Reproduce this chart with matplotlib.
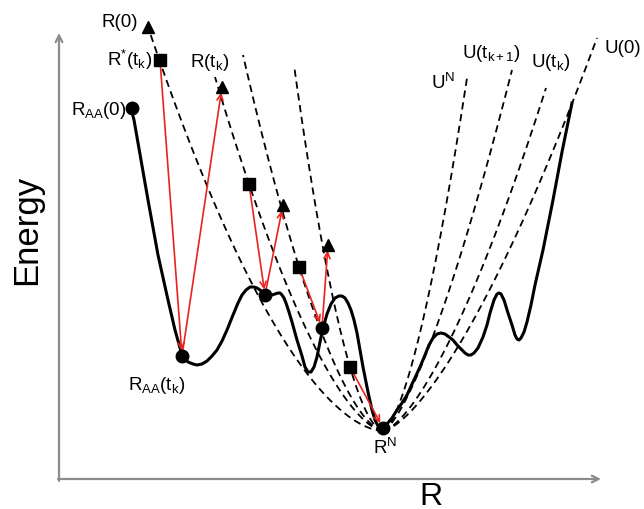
import numpy as np
import matplotlib
matplotlib.use('Agg')
import matplotlib.pyplot as plt

plt.rcParams['font.family'] = ['Liberation Sans', 'DejaVu Sans']
plt.rcParams['mathtext.fontset'] = 'custom'
plt.rcParams['mathtext.rm'] = 'Liberation Sans'
plt.rcParams['mathtext.it'] = 'Liberation Sans:italic'
plt.rcParams['mathtext.default'] = 'rm'

# ---- potential energy surface (solid curve) ----
R_curve = [72, 75, 82, 89, 99, 109, 116, 123, 129, 134, 138, 143, 148, 153, 158, 163,
           168, 174, 179, 183, 187, 191, 195, 198, 201, 204, 207, 210, 213, 216, 219,
           221, 223, 225, 227, 230, 233, 238, 243, 246, 249, 252, 255, 258, 261, 264,
           268, 272, 276, 280, 283, 286, 289, 292, 295, 298, 304, 309, 313, 316, 319,
           322, 324, 328, 333, 338, 343, 348, 354, 361, 366, 370, 374, 378, 382, 386,
           390, 394, 398, 402, 406, 409, 412, 415, 419, 424, 428, 431, 435, 438, 440,
           442, 445, 449, 453, 456, 458, 460, 462, 465, 468, 472, 476, 484, 494, 503, 513]
E_curve = [372, 360, 320, 280, 225, 180, 150, 125, 118, 116, 115, 116, 119, 124, 130, 139,
           150, 165, 177, 185, 190, 193, 193, 192, 190, 188, 186, 185, 185, 186, 187,
           187, 185, 182, 177, 168, 158, 140, 124, 113, 108, 108, 113, 123, 138, 152,
           166, 176, 182, 184, 184, 182, 177, 170, 160, 147, 113, 88, 70, 60, 54,
           52, 52, 56, 62, 70, 77, 85, 98, 113, 125, 135, 142, 146, 147, 146,
           143, 140, 135, 131, 127, 125, 125, 127, 132, 143, 155, 167, 180, 186, 187,
           186, 180, 167, 155, 145, 141, 140, 142, 148, 158, 175, 195, 230, 280, 328, 377]

# ---- harmonic approximations (dashed), vertex at R^N ----
R_N, E_N = 324, 49
harm_labels = ['U(0)', 'U(tk)', 'U(tk+1)', 'U^N']
left_top_R = [89, 156, 184, 235]
left_top_E = [453, 403, 425, 415]
left_mid_R = [154, 190, 240, 291]
left_mid_E = [280, 296, 213, 113]
right_top_R = [538, 487, 453, 408]
right_top_E = [442, 392, 410, 402]
right_mid_R = [473, 449, 418, 388]
right_mid_E = [280, 280, 280, 280]

# ---- markers ----
circle_R = [73, 123, 206, 263, 324]
circle_E = [372, 124, 185, 152, 52]
square_R = [101, 190, 240, 291]
square_E = [420, 296, 213, 113]
triangle_R = [89, 163, 224, 269]
triangle_E = [453, 393, 275, 235]

fig = plt.figure(figsize=(6.44, 5.09), dpi=100)
ax = fig.add_axes([0, 0, 1, 1])
ax.set_xlim(-59, 585)
ax.set_ylim(-29, 480)
ax.axis('off')

# axes arrows
axc = '#8c8c8c'
ax.annotate('', xy=(0, 447), xytext=(0, -1),
            arrowprops=dict(arrowstyle='->', color=axc, lw=1.6, shrinkA=0, shrinkB=0,
                            mutation_scale=12))
ax.annotate('', xy=(542, 1), xytext=(-1, 1),
            arrowprops=dict(arrowstyle='->', color=axc, lw=1.6, shrinkA=0, shrinkB=0,
                            mutation_scale=12))


def branch(top_R, top_E, mid_R, mid_E):
    dt, dm = abs(top_R - R_N), abs(mid_R - R_N)
    rt, rm = top_E - E_N, mid_E - E_N
    p = np.log(rt / rm) / np.log(dt / dm)
    a = rt / dt ** p
    R = np.linspace(R_N, top_R, 200)
    return R, E_N + a * np.abs(R - R_N) ** p


for i in range(4):
    for tR, tE, mR, mE in [(left_top_R[i], left_top_E[i], left_mid_R[i], left_mid_E[i]),
                           (right_top_R[i], right_top_E[i], right_mid_R[i], right_mid_E[i])]:
        R, E = branch(tR, tE, mR, mE)
        ax.plot(R, E, color='black', lw=1.3, linestyle=(0, (4, 2.6)), zorder=2)

ax.plot(R_curve, E_curve, color='black', lw=2.2, solid_joinstyle='round', zorder=3)

# red arrows
red = '#e8231f'
def arrow(p0, p1):
    ax.annotate('', xy=p1, xytext=p0,
                arrowprops=dict(arrowstyle='->', color=red, lw=1.2, shrinkA=3, shrinkB=4,
                                mutation_scale=11), zorder=4)

for i in range(3):
    arrow((square_R[i], square_E[i]), (circle_R[i + 1], circle_E[i + 1]))
    arrow((circle_R[i + 1], circle_E[i + 1]), (triangle_R[i + 1], triangle_E[i + 1]))
arrow((square_R[3], square_E[3]), (circle_R[4], circle_E[4]))

ax.plot(circle_R, circle_E, 'o', color='black', ms=9, zorder=5)
ax.plot(square_R, square_E, 's', color='black', ms=9, zorder=5)
ax.plot(triangle_R, triangle_E, '^', color='black', ms=9, zorder=5)

fs = 13.5
ax.text(79, 458, 'R(0)', fontsize=fs, ha='right', va='center')
ax.text(93, 420, r'R$^{*}$(t$_{k}$)', fontsize=fs, ha='right', va='center')
ax.text(151, 418, r'R(t$_{k}$)', fontsize=fs, ha='center', va='center')
ax.text(68, 370, r'R$_{AA}$(0)', fontsize=fs, ha='right', va='center')
ax.text(98, 95, r'R$_{AA}$(t$_{k}$)', fontsize=fs, ha='center', va='center')
ax.text(326, 32, r'R$^{N}$', fontsize=fs, ha='center', va='center')
ax.text(384, 397, r'U$^{N}$', fontsize=fs, ha='center', va='center')
ax.text(432, 427, r'U(t$_{k+1}$)', fontsize=fs, ha='center', va='center')
ax.text(492, 418, r'U(t$_{k}$)', fontsize=fs, ha='center', va='center')
ax.text(564, 432, 'U(0)', fontsize=fs, ha='center', va='center')

ax.text(-32, 250, 'Energy', fontsize=25, rotation=90, ha='center', va='center')
ax.text(372, -17, 'R', fontsize=23, ha='center', va='center')

fig.savefig('out.png', dpi=100)
